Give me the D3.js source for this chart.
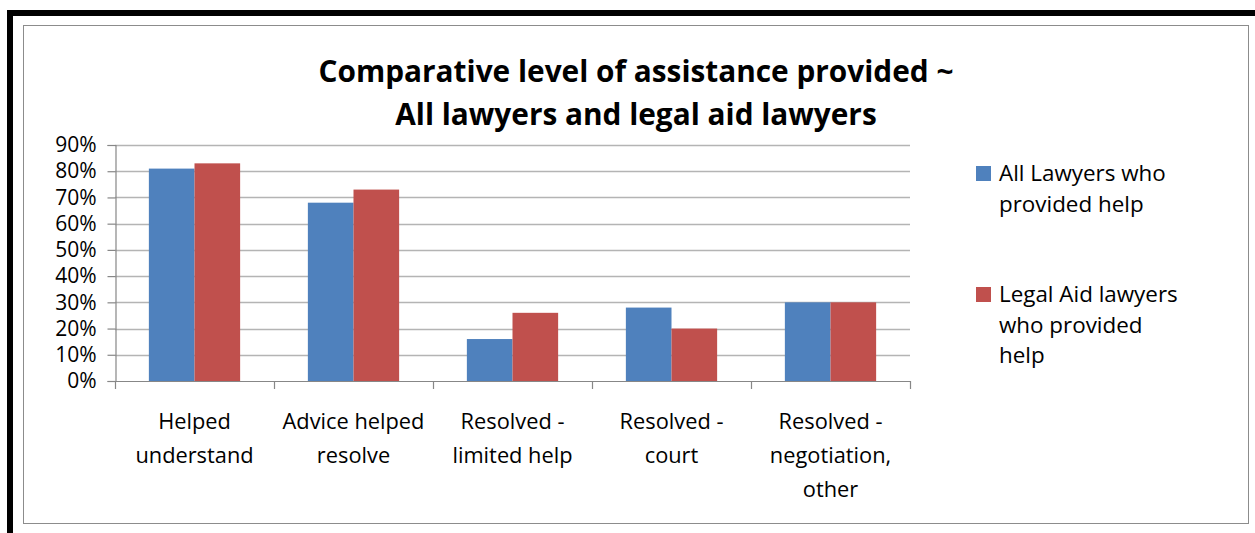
<!DOCTYPE html>
<html>
<head>
<meta charset="utf-8">
<script src="https://cdn.jsdelivr.net/npm/d3@7"></script>
<style>
  html, body { margin: 0; padding: 0; background: #fff; }
  svg { display: block; }
  text { font-family: "Open Sans", "Liberation Sans", sans-serif; fill: #000; }
</style>
</head>
<body>
<svg id="chart" width="1255" height="533"></svg>
<script>
// Chart data
const categories = [
  ["Helped", "understand"],
  ["Advice helped", "resolve"],
  ["Resolved -", "limited help"],
  ["Resolved -", "court"],
  ["Resolved -", "negotiation,", "other"]
];
const allLawyers = [0.81, 0.68, 0.16, 0.28, 0.30];
const legalAidLawyers = [0.83, 0.73, 0.26, 0.20, 0.30];
const seriesNames = [
  ["All Lawyers who", "provided help"],
  ["Legal Aid lawyers", "who provided", "help"]
];
const yTicks = [0, 0.1, 0.2, 0.3, 0.4, 0.5, 0.6, 0.7, 0.8, 0.9];
const titleLines = ["Comparative level of assistance provided ~", "All lawyers and legal aid lawyers"];

const colors = ["#4F81BD", "#C0504D"];
const series = [allLawyers, legalAidLawyers];

const svg = d3.select("#chart");

// Outer frame: heavy black rule on top and left
svg.append("rect").attr("x", 7).attr("y", 10).attr("width", 1248).attr("height", 6).attr("fill", "#000");
svg.append("rect").attr("x", 7).attr("y", 10).attr("width", 6).attr("height", 523).attr("fill", "#000");

// Chart area border
svg.append("rect").attr("x", 23.5).attr("y", 25.5).attr("width", 1225).attr("height", 498)
  .attr("fill", "#fff").attr("stroke", "#8c8c8c").attr("stroke-width", 1);

// Title
const title = svg.append("text").attr("text-anchor", "middle")
  .style("font-weight", "bold").style("font-size", "29.8px");
titleLines.forEach((t, i) => {
  title.append("tspan").attr("x", 636).attr("y", 82 + i * 43).text(t);
});

// Plot area
const plot = { left: 115, right: 910, top: 145, bottom: 381 };

const x = d3.scaleBand()
  .domain(d3.range(categories.length))
  .range([plot.left, plot.right])
  .paddingInner(0).paddingOuter(0);

const y = d3.scaleLinear()
  .domain([0, 0.9])
  .range([plot.bottom, plot.top]);

// Horizontal gridlines
svg.append("g").selectAll("line").data(yTicks.slice(1)).join("line")
  .attr("x1", plot.left).attr("x2", plot.right)
  .attr("y1", d => Math.round(y(d)) + 0.5).attr("y2", d => Math.round(y(d)) + 0.5)
  .attr("stroke", "#b4b4b4").attr("stroke-width", 1.5);

// Bars
const groupWidth = x.bandwidth() * 0.574;
const barW = groupWidth / 2;
series.forEach((vals, s) => {
  svg.append("g").selectAll("rect").data(vals).join("rect")
    .attr("x", (d, i) => x(i) + (x.bandwidth() - groupWidth) / 2 + s * barW)
    .attr("y", d => y(d))
    .attr("width", barW)
    .attr("height", d => plot.bottom - y(d))
    .attr("fill", colors[s]);
});

// Y axis
const yAxis = d3.axisLeft(y).tickValues(yTicks).tickFormat(d3.format(".0%"))
  .tickSize(8).tickPadding(11);
const gy = svg.append("g").attr("transform", `translate(${plot.left + 0.5},0)`).call(yAxis);
gy.select(".domain").attr("stroke", "#878787").attr("stroke-width", 1.2);
gy.selectAll(".tick line").attr("stroke", "#878787").attr("stroke-width", 1.2);
gy.selectAll(".tick text").style("font-size", "21px").style("font-family", "'Open Sans', sans-serif").attr("fill", "#000");

// X axis baseline and category separator ticks
const bounds = d3.range(categories.length + 1).map(i => plot.left + i * x.bandwidth());
svg.append("line").attr("x1", plot.left).attr("x2", plot.right)
  .attr("y1", plot.bottom + 0.5).attr("y2", plot.bottom + 0.5)
  .attr("stroke", "#878787").attr("stroke-width", 1.2);
svg.append("g").selectAll("line").data(bounds).join("line")
  .attr("x1", d => Math.round(d) + 0.5).attr("x2", d => Math.round(d) + 0.5)
  .attr("y1", plot.bottom).attr("y2", plot.bottom + 8)
  .attr("stroke", "#878787").attr("stroke-width", 1.2);

// Category labels
const xl = svg.append("g").selectAll("text").data(categories).join("text")
  .attr("text-anchor", "middle").style("font-size", "21.8px");
xl.each(function(lines, i) {
  const t = d3.select(this);
  lines.forEach((ln, j) => {
    t.append("tspan").attr("x", x(i) + x.bandwidth() / 2).attr("y", 429 + j * 34).text(ln);
  });
});

// Legend
const legendY = [166, 287];
seriesNames.forEach((lines, s) => {
  svg.append("rect").attr("x", 976).attr("y", legendY[s]).attr("width", 15).attr("height", 15).attr("fill", colors[s]);
  const t = svg.append("text").style("font-size", "22.4px");
  lines.forEach((ln, j) => {
    t.append("tspan").attr("x", 999).attr("y", legendY[s] + 15 + j * 30.5).text(ln);
  });
});
</script>
</body>
</html>
